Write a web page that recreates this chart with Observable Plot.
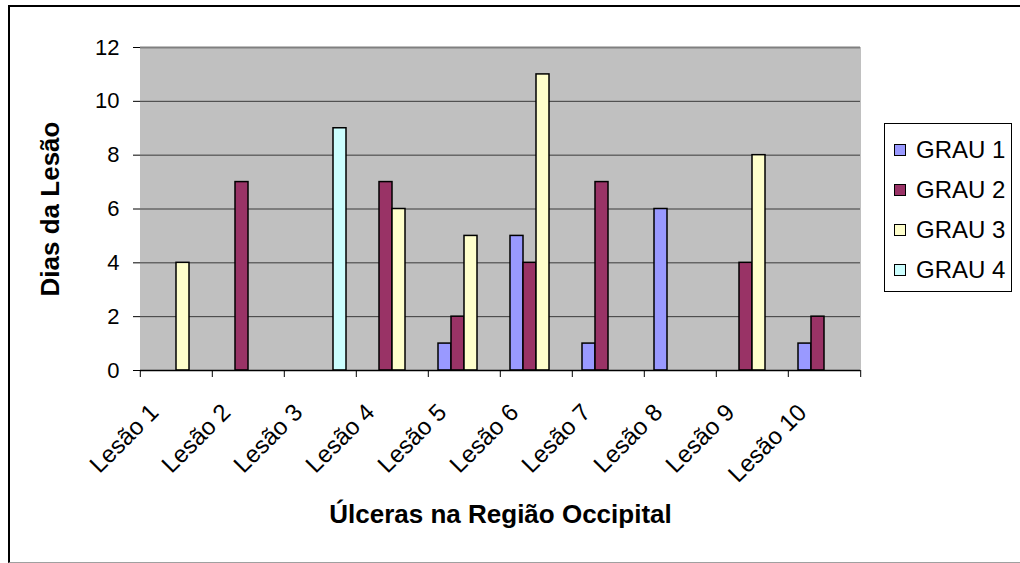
<!DOCTYPE html>
<html>
<head>
<meta charset="utf-8">
<script src="https://cdn.jsdelivr.net/npm/d3@7"></script>
<script src="https://cdn.jsdelivr.net/npm/@observablehq/plot@0.6"></script>
<style>
  html, body { margin: 0; padding: 0; background: #fff; }
  #wrap { position: relative; width: 1020px; height: 563px; overflow: hidden; font-family: "Liberation Sans", Arial, sans-serif; }
  #border { position: absolute; left: 8px; top: 5px; width: 1030px; height: 558px; box-sizing: border-box;
            border-left: 2px solid #000; border-top: 2px solid #000; border-bottom: 1px solid #a0a0a0; }
  #chart { position: absolute; left: 0; top: 0; }
  #legend { position: absolute; left: 884px; top: 123px; width: 128px; height: 169px; box-sizing: border-box;
            border: 1px solid #000; background: #fff; }
  .item { position: absolute; left: 9px; height: 26px; display: flex; align-items: center; font-size: 24px; color: #000; white-space: nowrap; }
  .sw { width: 12px; height: 12px; border: 1px solid #000; margin-right: 10px; box-sizing: border-box; }
</style>
</head>
<body>
<div id="wrap">
  <div id="border"></div>
  <div id="chart"></div>
  <div id="legend"></div>
</div>
<script>
const categories = ["Lesão 1", "Lesão 2", "Lesão 3", "Lesão 4", "Lesão 5", "Lesão 6", "Lesão 7", "Lesão 8", "Lesão 9", "Lesão 10"];
const series = ["GRAU 1", "GRAU 2", "GRAU 3", "GRAU 4"];
const grau1 = [0, 0, 0, 0, 1, 5, 1, 6, 0, 1];
const grau2 = [0, 7, 0, 7, 2, 4, 7, 0, 4, 2];
const grau3 = [4, 0, 0, 6, 5, 11, 0, 0, 8, 0];
const grau4 = [0, 0, 9, 0, 0, 0, 0, 0, 0, 0];
const colors = ["#9999FF", "#993366", "#FFFFCC", "#CCFFFF"];
const yTicks = [0, 2, 4, 6, 8, 10, 12];
const xTitle = "Úlceras na Região Occipital";
const yTitle = "Dias da Lesão";

const values = [grau1, grau2, grau3, grau4];
const data = [];
series.forEach((s, i) => categories.forEach((c, j) => {
  if (values[i][j] > 0) data.push({cat: c, grau: s, value: values[i][j]});
}));

const W = 1020, H = 563, mL = 138, mR = 158, mT = 47, mB = 193;
const step = (W - mL - mR) / categories.length;
const font = "'Liberation Sans', Arial, sans-serif";

const chart = Plot.plot({
  width: W, height: H,
  marginLeft: mL, marginRight: mR, marginTop: mT, marginBottom: mB,
  style: {background: "transparent", fontFamily: font, color: "#000"},
  fx: {domain: categories, paddingInner: 0, paddingOuter: 0, label: null},
  x: {domain: series, paddingInner: 0, paddingOuter: 0.75, axis: null},
  y: {domain: [0, 12], label: null},
  color: {domain: series, range: colors},
  marks: [
    Plot.frame({fill: "#c0c0c0", stroke: "#c0c0c0", strokeWidth: 1}),
    Plot.gridY({ticks: yTicks.slice(1, -1), stroke: "#3a3a3a", strokeOpacity: 1}),
    Plot.ruleY([12], {stroke: "#808080", strokeWidth: 2}),
    Plot.axisY({anchor: "right", ticks: [], tickSize: 0, line: true, stroke: "#808080", strokeWidth: 2, label: null}),
    Plot.barY(data, {fx: "cat", x: "grau", y: "value", fill: "grau", stroke: "#000", strokeWidth: 1.5}),
    Plot.ruleY([0], {stroke: "#000", strokeWidth: 1.5}),
    Plot.axisY({ticks: yTicks, tickSize: 7, tickPadding: 14, fontSize: 22, line: true, label: null, stroke: "#000"}),
    Plot.axisY({ticks: [], tickSize: 0, label: yTitle, labelAnchor: "center", labelOffset: 100, labelArrow: "none", fontSize: 26, fontWeight: "bold"}),
    Plot.axisFx({anchor: "bottom", tickSize: 0, tickRotate: -45, tickPadding: 38, dx: -22, fontSize: 24, label: null}),
    Plot.axisFx({anchor: "bottom", tickSize: 7, dx: -step / 2, tickFormat: () => "", label: null}),
    Plot.axisFx({anchor: "bottom", ticks: [categories[categories.length - 1]], tickSize: 7, dx: step / 2, tickFormat: () => "", label: null}),
    Plot.axisFx({anchor: "bottom", ticks: [], tickSize: 0, label: xTitle, labelAnchor: "center", labelOffset: 152, labelArrow: "none", fontSize: 26, fontWeight: "bold"})
  ]
});
document.getElementById("chart").appendChild(chart);

const legend = document.getElementById("legend");
series.forEach((s, i) => {
  const item = document.createElement("div");
  item.className = "item";
  item.style.top = (13 + i * 40) + "px";
  const sw = document.createElement("div");
  sw.className = "sw";
  sw.style.background = colors[i];
  const t = document.createElement("span");
  t.textContent = s;
  item.appendChild(sw);
  item.appendChild(t);
  legend.appendChild(item);
});
</script>
</body>
</html>
